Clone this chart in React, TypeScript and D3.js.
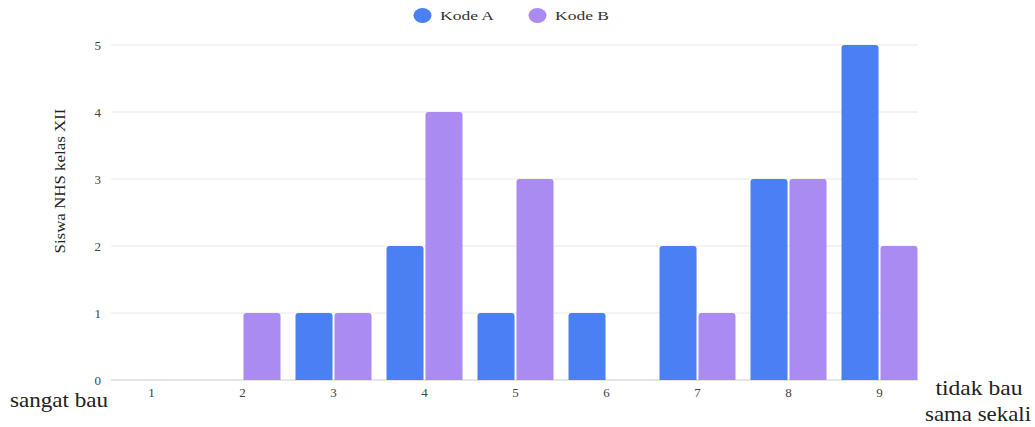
import React from "react";
import * as d3 from "d3";

const categories = ["1", "2", "3", "4", "5", "6", "7", "8", "9"];
const seriesNames = ["Kode A", "Kode B"];
const kodeA = [0, 0, 1, 2, 1, 1, 2, 3, 5];
const kodeB = [0, 1, 1, 4, 3, 0, 1, 3, 2];
const yTicks = [0, 1, 2, 3, 4, 5];
const colors = ["#4a80f3", "#a98bf2"];

const W = 1035;
const H = 427;
const FONT = "'Liberation Serif', 'Times New Roman', serif";

function topRounded(x: number, y: number, w: number, h: number, r: number) {
  if (h <= 0) return "";
  const rr = Math.min(r, h, w / 2);
  return `M${x},${y + h}V${y + rr}Q${x},${y} ${x + rr},${y}H${x + w - rr}Q${x + w},${y} ${x + w},${y + rr}V${y + h}Z`;
}

export default function App() {
  const x0 = d3.scaleBand<string>().domain(categories).range([106, 925]).paddingInner(0.165).paddingOuter(0.0825);
  const x1 = d3.scaleBand<string>().domain(seriesNames).range([0, x0.bandwidth()]).paddingInner(0.05);
  const y = d3.scaleLinear().domain([0, 5]).range([380, 45]);
  const series = [kodeA, kodeB];

  return (
    <svg width={W} height={H} style={{ position: "absolute", left: 0, top: 0, background: "#fff" }}>
      {yTicks.map((t) => (
        <g key={t}>
          <line x1={111} x2={918} y1={y(t)} y2={y(t)} stroke={t === 0 ? "#cccccc" : "#e8e8e8"} strokeWidth={1} />
          <text x={101} y={y(t)} dy="0.35em" textAnchor="end" fontFamily={FONT} fontSize={13} fill="#444">{t}</text>
        </g>
      ))}
      {categories.map((c, i) => (
        <g key={c}>
          {series.map((s, j) => {
            const v = s[i];
            const bx = (x0(c) as number) + (x1(seriesNames[j]) as number);
            return <path key={j} d={topRounded(bx, y(v), x1.bandwidth(), y(0) - y(v), 3)} fill={colors[j]} />;
          })}
          <text x={(x0(c) as number) + x0.bandwidth() / 2} y={392.5} dy="0.35em" textAnchor="middle" fontFamily={FONT} fontSize={13} fill="#444">{c}</text>
        </g>
      ))}
      <text transform="translate(60,181) rotate(-90)" textAnchor="middle" dy="0.35em" fontFamily={FONT} fontSize={15} fill="#222" textLength={145} lengthAdjust="spacingAndGlyphs">Siswa NHS kelas XII</text>
      {seriesNames.map((n, j) => (
        <g key={n} transform={`translate(${422.5 + j * 115},15.5)`}>
          <ellipse cx={0} cy={0} rx={9} ry={7.5} fill={colors[j]} />
          <text x={17.5} y={4.5} fontFamily={FONT} fontSize={13} fill="#333" textLength={54} lengthAdjust="spacingAndGlyphs">{n}</text>
        </g>
      ))}
      <text x={10} y={407} fontFamily={FONT} fontSize={21} fill="#222" textLength={98} lengthAdjust="spacingAndGlyphs">sangat bau</text>
      <text x={979} y={395} textAnchor="middle" fontFamily={FONT} fontSize={21} fill="#222" textLength={87} lengthAdjust="spacingAndGlyphs">tidak bau</text>
      <text x={978} y={421} textAnchor="middle" fontFamily={FONT} fontSize={21} fill="#222" textLength={106} lengthAdjust="spacingAndGlyphs">sama sekali</text>
    </svg>
  );
}
